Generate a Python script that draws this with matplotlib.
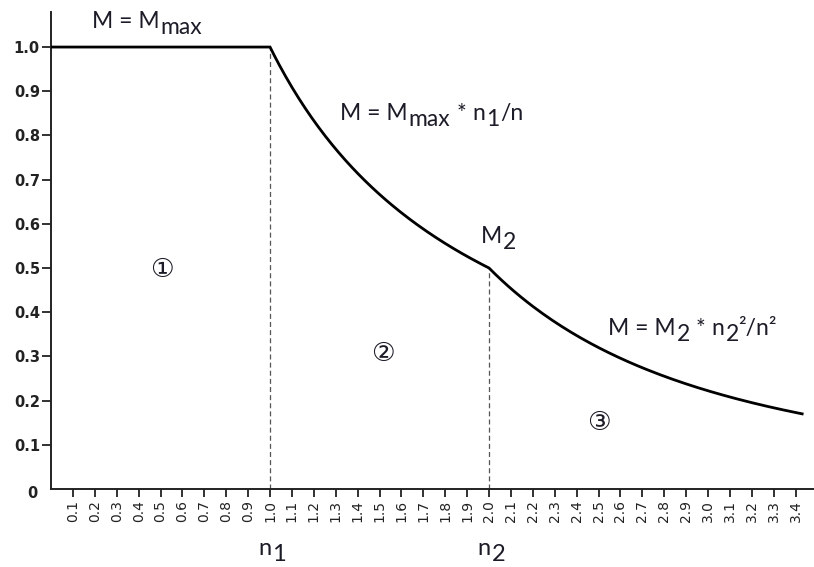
import numpy as np
import matplotlib
matplotlib.use("Agg")
import matplotlib.pyplot as plt
from matplotlib.transforms import ScaledTranslation

# Operating ranges of the drive: constant torque, constant power, field weakening
M_max = 1.0      # rated torque
n1 = 1.0         # base speed
n2 = 2.0         # start of the third range
M2 = 0.5         # torque at n2
n_end = 3.43     # last plotted speed

x_ticks = [0.1, 0.2, 0.3, 0.4, 0.5, 0.6, 0.7, 0.8, 0.9, 1.0,
           1.1, 1.2, 1.3, 1.4, 1.5, 1.6, 1.7, 1.8, 1.9, 2.0,
           2.1, 2.2, 2.3, 2.4, 2.5, 2.6, 2.7, 2.8, 2.9, 3.0,
           3.1, 3.2, 3.3, 3.4]
x_tick_labels = ["0.1", "0.2", "0.3", "0.4", "0.5", "0.6", "0.7", "0.8", "0.9", "1.0",
                 "1.1", "1.2", "1.3", "1.4", "1.5", "1.6", "1.7", "1.8", "1.9", "2.0",
                 "2.1", "2.2", "2.3", "2.4", "2.5", "2.6", "2.7", "2.8", "2.9", "3.0",
                 "3.1", "3.2", "3.3", "3.4"]
y_ticks = [0.1, 0.2, 0.3, 0.4, 0.5, 0.6, 0.7, 0.8, 0.9, 1.0]
y_tick_labels = ["0.1", "0.2", "0.3", "0.4", "0.5", "0.6", "0.7", "0.8", "0.9", "1.0"]

fig = plt.figure(figsize=(8.14, 5.67), dpi=100)
ax = fig.add_axes([0.0627, 0.1376, 0.9373, 0.841])

# Torque characteristic, piecewise by range
n_a = np.array([0.0, n1])
m_a = np.array([M_max, M_max])
n_b = np.linspace(n1, n2, 100)
m_b = M_max * n1 / n_b
n_c = np.linspace(n2, n_end, 100)
m_c = M2 * n2 ** 2 / n_c ** 2
n_all = np.concatenate([n_a, n_b, n_c])
m_all = np.concatenate([m_a, m_b, m_c])
ax.plot(n_all, m_all, color="black", lw=2.0, solid_joinstyle="miter", zorder=3)

# Range boundaries
ax.plot([n1, n1], [0, M_max], color="#555555", lw=0.9, dashes=(4, 2.5))
ax.plot([n2, n2], [0, M2], color="#555555", lw=0.9, dashes=(4, 2.5))

ax.set_xlim(0, 3.484)
ax.set_ylim(0, 1.079)

for s in ("top", "right"):
    ax.spines[s].set_visible(False)
for s in ("left", "bottom"):
    ax.spines[s].set_linewidth(1.4)
    ax.spines[s].set_color("#222222")

ax.set_xticks(x_ticks)
ax.set_xticklabels(x_tick_labels, rotation=90, fontsize=10, family="DejaVu Sans",
                   color="#222222")
ax.set_yticks(y_ticks)
ax.set_yticklabels(y_tick_labels, fontsize=10.5, fontweight="bold", family="DejaVu Sans",
                   color="#222222")
ax.tick_params(axis="x", length=6, width=1.3, pad=2, color="#222222")
ax.tick_params(axis="y", length=6.5, width=1.3, pad=1.5, color="#222222")

# Origin label without a tick
ax.text(-0.06, -0.01, "0", ha="right", va="center", fontsize=10.5, fontweight="bold",
        family="DejaVu Sans", color="#222222", clip_on=False)

tc = "#1c1c28"
label_font = "Lato"
renderer = fig.canvas.get_renderer()


def rich_text(x, y, pieces, size, center=False):
    """Draw a run of text pieces; each piece is (text, dy_px, scale, gap_px)."""
    dx = 0.0
    items = []
    for s, dy, scale, gap in pieces:
        dx += gap
        t = ax.text(x, y, s, fontsize=size * scale, family=label_font, color=tc,
                    ha="left", va="baseline", clip_on=False)
        items.append((t, dx, dy))
        t.set_transform(ax.transData + ScaledTranslation(dx / fig.dpi, dy / fig.dpi,
                                                         fig.dpi_scale_trans))
        dx += t.get_window_extent(renderer).width
    shift = dx / 2.0 if center else 0.0
    for t, ox, dy in items:
        t.set_transform(ax.transData + ScaledTranslation((ox - shift) / fig.dpi,
                                                         dy / fig.dpi,
                                                         fig.dpi_scale_trans))


fs = 16.5
rich_text(0.187, 1.043, [("M = M", 0, 1, 0), ("max", -6, 1, 1)], fs)
rich_text(1.32, 0.835, [("M = M", 0, 1, 0), ("max", -6, 1, 1), ("*", 0, 1, 6),
                        ("n", 0, 1, 6), ("1", -6, 1, 1), ("/n", 0, 1, 1)], fs)
rich_text(2.045, 0.557, [("M", 0, 1, 0), ("2", -6, 1, 1)], fs, center=True)
rich_text(2.543, 0.348, [("M = M", 0, 1, 0), ("2", -6, 1, 1), ("*", 0, 1, 6),
                         ("n", 0, 1, 6), ("2", -6, 1, 1), ("\u00b2/n\u00b2", 0, 1, -1)], fs)

rich_text(n1 + 0.01, -0.149, [("n", 0, 1, 0), ("1", -6, 1, 1)], 17, center=True)
rich_text(n2 + 0.01, -0.149, [("n", 0, 1, 0), ("2", -6, 1, 1)], 17, center=True)

circ_font = ["DejaVu Sans", "Noto Sans CJK JP"]
for cx, cy, ch in [(0.507, 0.495, "\u2460"), (1.516, 0.305, "\u2461"),
                   (2.50, 0.149, "\u2462")]:
    ax.text(cx, cy, ch, fontsize=19, family=circ_font, color=tc,
            ha="center", va="center")

fig.savefig("out.png", dpi=100, facecolor="white")
